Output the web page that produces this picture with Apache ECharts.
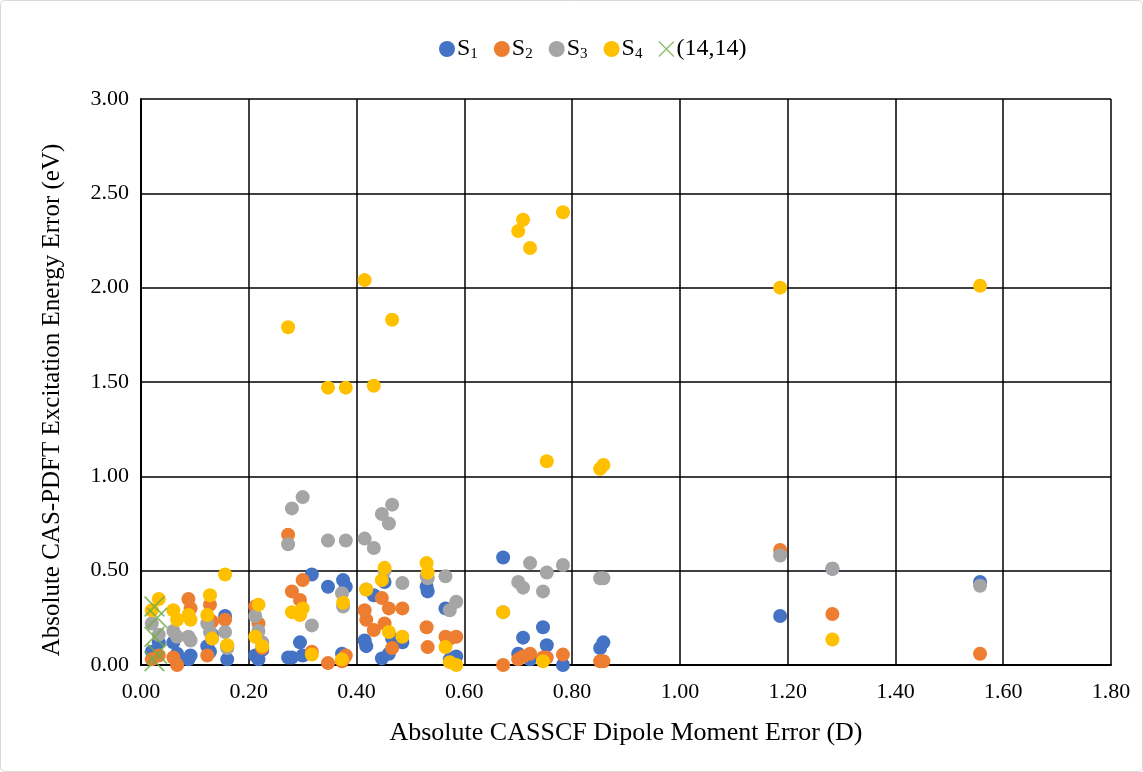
<!DOCTYPE html>
<html><head><meta charset="utf-8">
<script src="https://cdn.jsdelivr.net/npm/echarts@6/dist/echarts.min.js"></script>
<style>html,body{margin:0;padding:0;background:#fff}#c{width:1143px;height:772px}</style>
</head><body><div id="c"></div>
<script>
// x = absolute CASSCF dipole moment error (D), one per molecule/state set
const xVals = [0.020,0.033,0.060,0.067,0.088,0.092,0.123,0.128,0.132,0.156,0.160,0.212,0.218,0.225,0.273,0.280,0.295,0.300,0.317,0.347,0.373,0.375,0.380,0.415,0.418,0.432,0.447,0.452,0.460,0.466,0.485,0.530,0.532,0.565,0.573,0.585,0.672,0.700,0.709,0.722,0.746,0.753,0.783,0.852,0.858,1.186,1.283,1.557];
const s1 = [0.07,0.12,0.12,0.06,0.03,0.05,0.10,0.07,0.16,0.26,0.03,0.05,0.03,0.08,0.04,0.04,0.12,0.05,0.48,0.415,0.06,0.45,0.415,0.13,0.10,0.37,0.035,0.44,0.06,0.14,0.12,0.415,0.39,0.30,0.03,0.045,0.57,0.06,0.145,0.03,0.20,0.105,0.00,0.09,0.12,0.26,0.51,0.44];
const s2 = [0.03,0.05,0.04,0.00,0.35,0.30,0.05,0.32,0.23,0.24,0.10,0.31,0.22,0.09,0.69,0.39,0.345,0.45,0.07,0.01,0.02,0.03,0.05,0.29,0.24,0.185,0.355,0.22,0.30,0.09,0.30,0.20,0.095,0.15,0.14,0.15,0.00,0.03,0.045,0.06,0.04,0.04,0.055,0.02,0.02,0.61,0.27,0.06];
const s3 = [0.22,0.16,0.18,0.15,0.15,0.13,0.22,0.175,0.14,0.175,0.09,0.26,0.18,0.12,0.64,0.83,0.27,0.89,0.21,0.66,0.38,0.31,0.66,0.67,0.40,0.62,0.80,0.50,0.75,0.85,0.435,0.47,0.46,0.47,0.29,0.335,0.28,0.44,0.41,0.54,0.39,0.49,0.53,0.46,0.46,0.58,0.51,0.42];
const s4 = [0.29,0.35,0.29,0.24,0.265,0.24,0.265,0.37,0.14,0.48,0.105,0.15,0.32,0.10,1.79,0.28,0.265,0.30,0.055,1.47,0.03,0.33,1.47,2.04,0.40,1.48,0.45,0.515,0.175,1.83,0.15,0.54,0.49,0.095,0.015,0.00,0.28,2.30,2.36,2.21,0.02,1.08,2.40,1.04,1.06,2.00,0.135,2.01];
const x14 = [0.025,0.030,0.025,0.030,0.025];
const y14 = [0.31,0.25,0.15,0.06,0.02];
const xTicks = [0,0.2,0.4,0.6,0.8,1.0,1.2,1.4,1.6,1.8];
const yTicks = [0,0.5,1.0,1.5,2.0,2.5,3.0];

const pair = (xs, ys) => xs.map((x, i) => [x, ys[i]]);
const FONT = '"Liberation Serif","Times New Roman",serif';
const crossPath = 'path://M0,0.6 L0.6,0 L5,4.4 L9.4,0 L10,0.6 L5.6,5 L10,9.4 L9.4,10 L5,5.6 L0.6,10 L0,9.4 L4.4,5 Z';

const chart = echarts.init(document.getElementById('c'), null, {renderer: 'canvas'});
const names = ['S1','S2','S3','S4'];
const colors = ['#4472C4','#ED7D31','#A5A5A5','#FFC000'];
const sets = [s1, s2, s3, s4];
const series = sets.map((s, k) => ({
  name: names[k], type: 'scatter', data: pair(xVals, s),
  symbol: 'circle', symbolSize: 14,
  itemStyle: {color: colors[k], opacity: 1}, z: 2 + k
}));
series.push({
  name: '(14,14)', type: 'scatter', data: pair(x14, y14),
  symbol: crossPath, symbolSize: 21,
  itemStyle: {color: '#70AD47'}, z: 10
});

chart.setOption({
  animation: false,
  backgroundColor: '#fff',
  color: colors.concat(['#70AD47']),
  textStyle: {fontFamily: FONT},
  graphic: [{type: 'rect', shape: {x: 0.5, y: 0.5, width: 1142, height: 771, r: 4},
    style: {fill: 'none', stroke: '#D9D9D9', lineWidth: 1}, silent: true}],
  legend: {
    top: 32, left: 434, itemWidth: 16, itemHeight: 16, itemGap: 16,
    data: [
      {name: 'S1', icon: 'circle'}, {name: 'S2', icon: 'circle'},
      {name: 'S3', icon: 'circle'}, {name: 'S4', icon: 'circle'},
      {name: '(14,14)', icon: crossPath}
    ],
    formatter: n => n.startsWith('S') ? '{m|S}{s|' + n.slice(1) + '}' : '{m|' + n + '}',
    textStyle: {
      fontFamily: FONT, color: '#000', padding: [0, 0, 0, -3],
      rich: {
        m: {fontFamily: FONT, fontSize: 24, color: '#000'},
        s: {fontFamily: FONT, fontSize: 15, color: '#000', verticalAlign: 'bottom', padding: [10, 0, 0, 0]}
      }
    }
  },
  grid: {left: 141, right: 32, top: 99, bottom: 107, containLabel: false},
  xAxis: {
    type: 'value', min: 0, max: 1.8, interval: 0.2,
    name: 'Absolute CASSCF Dipole Moment Error (D)', nameLocation: 'middle', nameGap: 55,
    nameTextStyle: {fontFamily: FONT, fontSize: 26, color: '#000'},
    axisLine: {show: true, lineStyle: {color: '#000', width: 2}},
    axisTick: {show: false},
    axisLabel: {fontFamily: FONT, fontSize: 22, color: '#000', margin: 16,
      formatter: v => v.toFixed(2)},
    splitLine: {show: true, lineStyle: {color: '#000', width: 1.5}}
  },
  yAxis: {
    type: 'value', min: 0, max: 3, interval: 0.5,
    name: 'Absolute CAS-PDFT Excitation Energy Error (eV)', nameLocation: 'middle', nameGap: 76,
    nameTextStyle: {fontFamily: FONT, fontSize: 25, color: '#000', padding: [0, 36, 0, 0]},
    axisLine: {show: true, lineStyle: {color: '#000', width: 2}},
    axisTick: {show: false},
    axisLabel: {fontFamily: FONT, fontSize: 22, color: '#000', margin: 12,
      formatter: v => v.toFixed(2)},
    splitLine: {show: true, lineStyle: {color: '#000', width: 1.5}}
  },
  series: series
});
</script></body></html>
